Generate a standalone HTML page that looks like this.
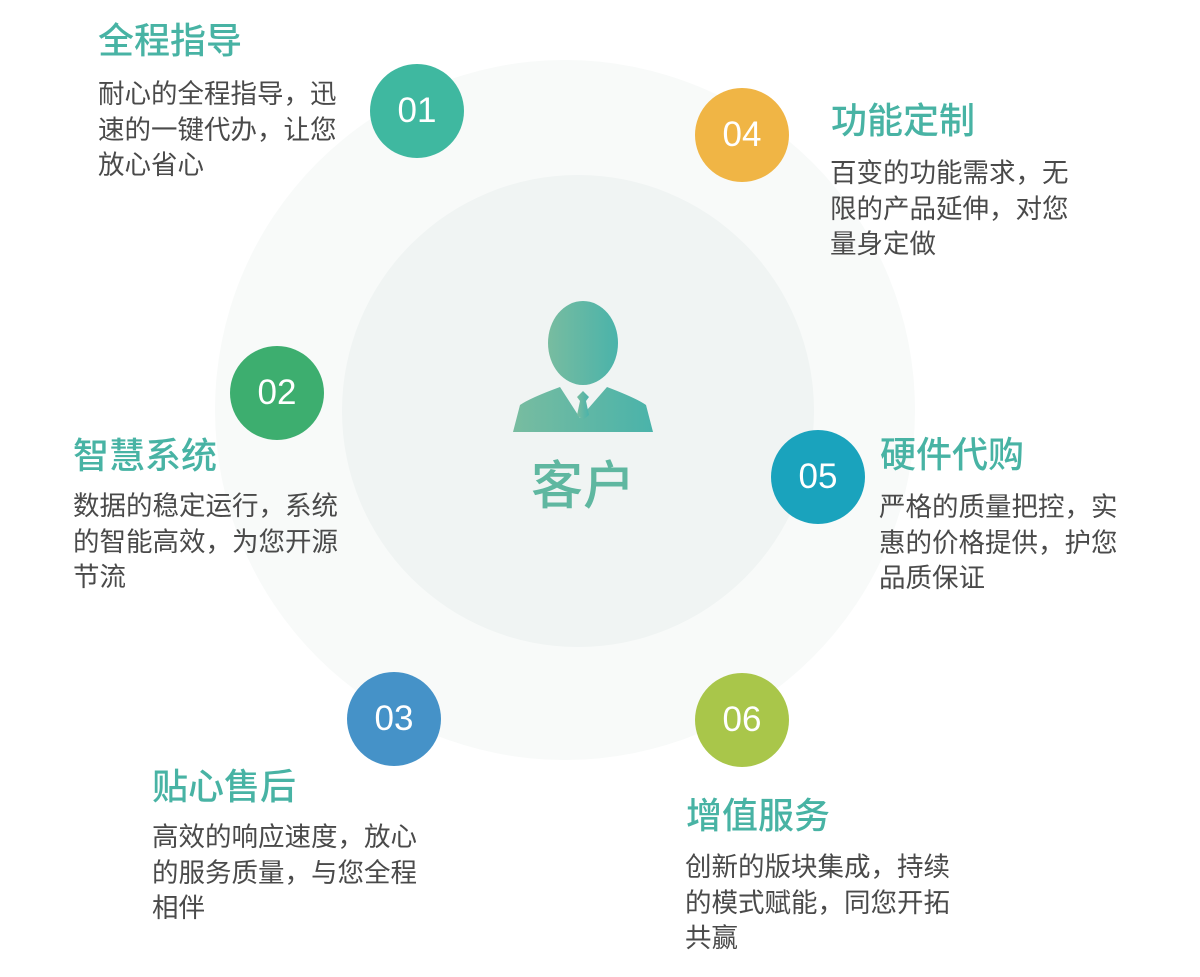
<!DOCTYPE html>
<html><head><meta charset="utf-8"><style>
*{margin:0;padding:0}
body{width:1200px;height:977px;background:#fff;position:relative;overflow:hidden;font-family:"Liberation Sans","Noto Sans CJK SC",sans-serif}
.c{position:absolute;border-radius:50%}
.n{position:absolute;width:94px;height:94px;border-radius:50%;color:#fff;font-size:35px;line-height:94px;text-align:center;font-family:"Liberation Sans",sans-serif}
.t{position:absolute;font-size:36px;color:#48b3a4;line-height:40px;white-space:nowrap;font-weight:500}
.b{position:absolute;font-size:26.5px;color:#4a4a4a;line-height:35.5px;white-space:nowrap}
</style></head><body>
<div class="c" style="left:215px;top:60px;width:700px;height:700px;background:#f8faf9"></div>
<div class="c" style="left:342px;top:175px;width:472px;height:472px;background:#f0f4f3"></div>
<svg style="position:absolute;left:0;top:0" width="1200" height="977">
<defs><linearGradient id="g" x1="0" x2="1"><stop offset="0" stop-color="#78bca0"/><stop offset="1" stop-color="#4ab3aa"/></linearGradient></defs>
<ellipse cx="583" cy="343" rx="35" ry="42" fill="url(#g)"/>
<path d="M513 432 L520 405 Q530 398 560 387 L580 418 L607 387 Q636 398 646 405 L653 432 Z" fill="url(#g)"/>
<path d="M577 397 L583 391 L589 397 L586 401 L589 415 L583 420 L577 415 L580 401 Z" fill="url(#g)"/>
</svg>
<div style="position:absolute;left:513px;top:455px;width:140px;text-align:center;font-size:52px;color:#5fb7a0;line-height:64px;font-weight:500">客户</div>
<div class="n" style="left:370px;top:64px;background:#3fb8a0">01</div>
<div class="n" style="left:695px;top:88px;background:#f0b545">04</div>
<div class="n" style="left:230px;top:346px;background:#3dae6f">02</div>
<div class="n" style="left:771px;top:430px;background:#1aa3bd">05</div>
<div class="n" style="left:347px;top:672px;background:#4592c8">03</div>
<div class="n" style="left:695px;top:673px;background:#a9c64a">06</div>

<div class="t" style="left:98px;top:21px">全程指导</div>
<div class="b" style="left:98px;top:77px">耐心的全程指导，迅<br>速的一键代办，让您<br>放心省心</div>
<div class="t" style="left:831px;top:101px">功能定制</div>
<div class="b" style="left:830px;top:156px">百变的功能需求，无<br>限的产品延伸，对您<br>量身定做</div>
<div class="t" style="left:73px;top:436px">智慧系统</div>
<div class="b" style="left:73px;top:489px">数据的稳定运行，系统<br>的智能高效，为您开源<br>节流</div>
<div class="t" style="left:880px;top:435px">硬件代购</div>
<div class="b" style="left:879px;top:490px">严格的质量把控，实<br>惠的价格提供，护您<br>品质保证</div>
<div class="t" style="left:152px;top:767px">贴心售后</div>
<div class="b" style="left:152px;top:820px">高效的响应速度，放心<br>的服务质量，与您全程<br>相伴</div>
<div class="t" style="left:686px;top:796px">增值服务</div>
<div class="b" style="left:685px;top:850px">创新的版块集成，持续<br>的模式赋能，同您开拓<br>共赢</div>
</body></html>
